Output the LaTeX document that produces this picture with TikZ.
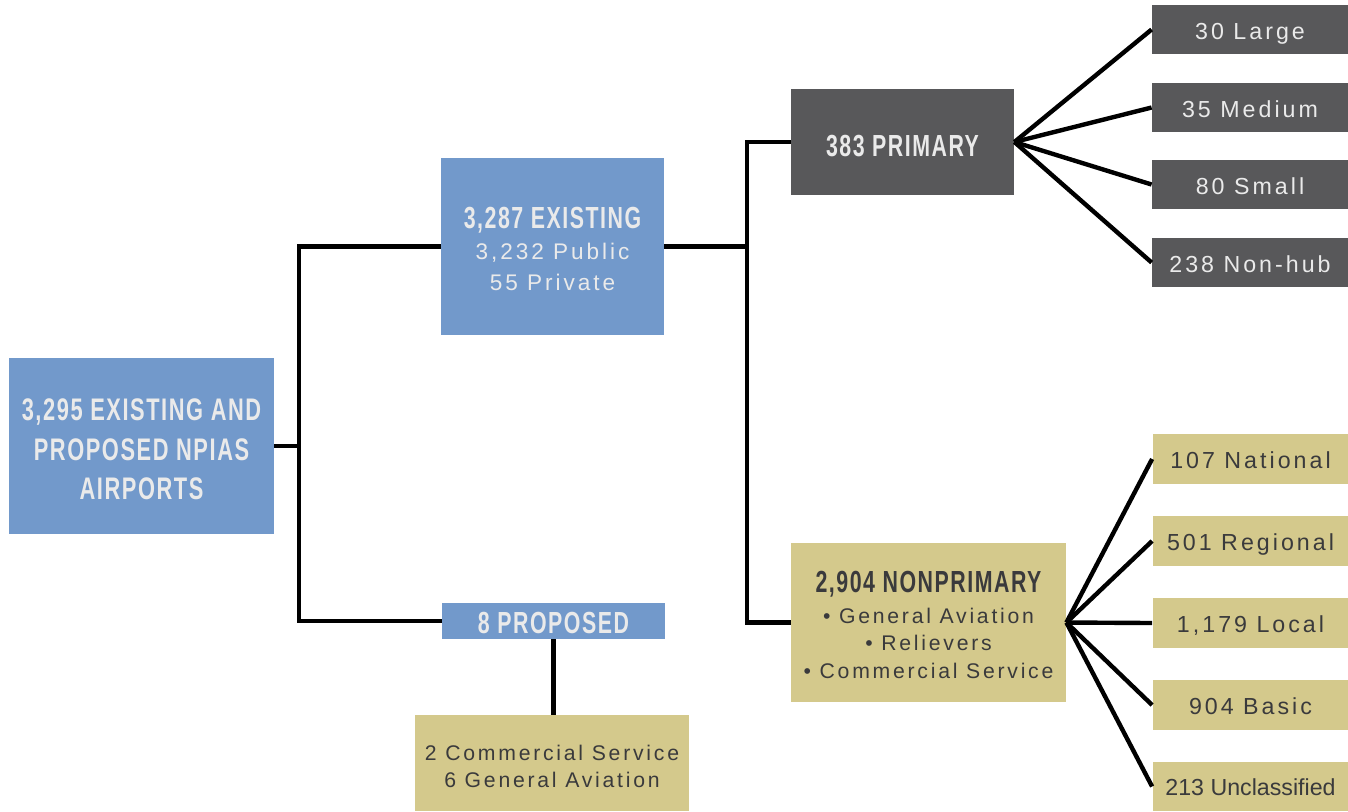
\documentclass[tikz,border=0pt]{standalone}
\usepackage{fontspec}
\setmainfont{Liberation Sans}[LetterSpace=13]
\newfontfamily\hdfont{Liberation Sans}[FakeStretch=0.70, LetterSpace=5]
\newfontfamily\tightfont{Liberation Sans}
\definecolor{npblue}{RGB}{114,153,203}
\definecolor{npgray}{RGB}{88,88,90}
\definecolor{nptan}{RGB}{212,201,140}
\definecolor{lighttxt}{RGB}{234,234,234}
\definecolor{darktxt}{RGB}{58,58,60}
\newcommand{\hd}[1]{{\hdfont\bfseries\fontsize{15.25}{18}\selectfont #1}}
\tikzset{
  box/.style={rectangle, inner sep=0pt, align=center, anchor=center},
  bluebox/.style={box, fill=npblue, text=lighttxt},
  graybox/.style={box, fill=npgray, text=lighttxt},
  tanbox/.style={box, fill=nptan, text=darktxt},
  lbl/.style={inner sep=0pt, align=center, anchor=center},
  kid/.style={box, minimum width=98pt, minimum height=24.75pt, font=\fontsize{11.6}{14}\selectfont, text depth=0pt},
  conn/.style={line width=2.2pt, black}
}
\begin{document}
\begin{tikzpicture}[x=0.5pt,y=-0.5pt]
\fill[white] (0,0) rectangle (1348,811);
\useasboundingbox (0,0) rectangle (1348,811);

\node[bluebox, minimum width=132.5pt, minimum height=88pt] (root) at (141.5,446) {};
\node[lbl, text=lighttxt, font=\hdfont\bfseries\fontsize{15.6}{19.75}\selectfont] (rootT)
  at ([yshift=-1.8pt]root.center) {3,295 EXISTING AND\\PROPOSED NPIAS\\AIRPORTS};

\node[bluebox, minimum width=111.5pt, minimum height=88.5pt] (exist) at (552.5,246.5) {};
\node[lbl, text=lighttxt, font=\fontsize{11.3}{15.5}\selectfont] (existT)
  at ([yshift=-1.3pt]exist.center) {\hd{3,287 EXISTING}\\3,232 Public\\55 Private};

\node[bluebox, minimum width=111.5pt, minimum height=18pt] (prop) at (553.5,621) {};
\node[lbl, text=lighttxt] (propT) at ([yshift=-1pt]prop.center) {\hd{8 PROPOSED}};

\node[tanbox, minimum width=137pt, minimum height=48pt] (det) at (552,763) {};
\node[lbl, text=darktxt, font=\fontsize{10.6}{13.5}\selectfont] (detT)
  at ([yshift=-1.5pt]det.center) {2 Commercial Service\\6 General Aviation};

\node[graybox, minimum width=111.5pt, minimum height=53pt] (prim) at (902.5,142) {};
\node[lbl, text=lighttxt] (primT) at ([yshift=-2pt]prim.center) {\hd{383 PRIMARY}};

\node[tanbox, minimum width=137.5pt, minimum height=79.5pt] (nonp) at (928.5,622.5) {};
\node[lbl, text=darktxt, font=\fontsize{10.6}{13.75}\selectfont] (nonpT)
  at ([yshift=-1.2pt]nonp.center)
  {\hd{2,904 NONPRIMARY}\\[1.5pt]\textbullet{} General Aviation\\\textbullet{} Relievers\\\textbullet{} Commercial Service};

\node[graybox, kid, text height=10.3pt] (large) at (1250,29.5) {30 Large};
\node[graybox, kid, text height=10.3pt] (medium) at (1250,107.5) {35 Medium};
\node[graybox, kid, text height=10.3pt] (small) at (1250,184.5) {80 Small};
\node[graybox, kid, text height=10.3pt] (nonhub) at (1250,262.5) {238 Non-hub};

\node[tanbox, kid, text height=9pt] (national) at (1250.5,459) {107 National};
\node[tanbox, kid, text height=9pt] (regional) at (1250.5,541) {501 Regional};
\node[tanbox, kid, text height=9pt] (local) at (1250.5,623) {1,179 Local};
\node[tanbox, kid, text height=9pt] (basic) at (1250.5,705) {904 Basic};
\node[tanbox, kid, text height=9pt, font=\tightfont\fontsize{11.6}{14}\selectfont] (uncl) at (1250.5,786.5) {213 Unclassified};

\coordinate (j1) at (299,446);
\coordinate (j2) at (747,246.5);
\draw[conn] (root.east) -- (j1);
\draw[conn] (exist.west) -| (j1) |- (prop.west);
\draw[conn] (exist.east) -- (j2);
\draw[conn] (prim.west) -| (j2) |- (nonp.west);
\draw[conn] (prop.south) -- (prop.south |- det.north);

\foreach \k in {large,medium,small,nonhub}
  \draw[conn] (prim.east) -- (\k.west);
\foreach \k in {national,regional,local,basic,uncl}
  \draw[conn] (nonp.east) -- (\k.west);
\end{tikzpicture}
\end{document}
